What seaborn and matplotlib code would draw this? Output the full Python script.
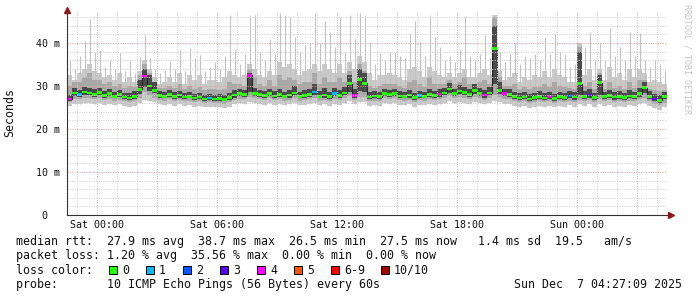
import numpy as np
import matplotlib
matplotlib.use("Agg")
import matplotlib.pyplot as plt
import matplotlib.patches as mpatches
import seaborn as sns

# ---------------- data (15-minute bins, Fri 22:30 -> Sun 04:30) ----------------
rtt_median = [
    27.0, 28.4, 28.0, 28.6, 28.4, 28.0, 28.5, 27.8, 28.2, 27.6,
    28.0, 27.4, 27.2, 27.5, 29.2, 32.3, 30.0, 29.0, 27.8, 27.6,
    28.0, 27.6, 27.9, 27.4, 27.6, 27.2, 27.4, 27.0, 27.2, 27.0,
    27.1, 26.9, 27.3, 27.9, 28.2, 28.0, 32.5, 28.3, 28.0, 27.8,
    28.3, 27.7, 28.0, 27.6, 27.9, 28.4, 27.6, 27.8, 28.0, 28.6,
    27.6, 27.9, 27.5, 28.2, 27.8, 28.4, 30.5, 27.8, 31.5, 30.6,
    27.4, 27.7, 27.5, 28.3, 28.0, 28.3, 27.7, 27.6, 27.9, 27.3,
    27.8, 27.6, 28.0, 27.8, 28.1, 28.4, 29.3, 28.2, 28.8, 28.5,
    28.0, 28.9, 28.3, 27.9, 28.4, 38.7, 29.0, 28.2, 28.0, 27.5,
    27.2, 27.4, 27.0, 27.3, 27.6, 27.2, 27.5, 27.1, 27.6, 27.3,
    27.7, 27.4, 30.5, 27.6, 27.9, 27.3, 30.8, 27.5, 27.8, 27.4,
    27.6, 27.3, 27.7, 27.5, 28.2, 29.6, 27.6, 27.0, 26.7, 27.5,
]
ping_spike = [
    36.0, 34.0, 37.0, 40.5, 45.5, 38.0, 38.4, 34.5, 36.0, 34.0,
    37.6, 33.5, 35.9, 33.0, 36.7, 41.9, 36.5, 34.0, 33.0, 33.8,
    35.9, 34.0, 38.4, 33.5, 38.8, 36.5, 37.2, 33.5, 34.5, 35.5,
    34.0, 37.0, 46.5, 38.5, 35.0, 37.5, 46.5, 46.5, 38.0, 36.0,
    41.0, 37.5, 47.0, 46.5, 46.0, 41.5, 38.0, 39.5, 40.0, 47.0,
    40.0, 45.0, 42.6, 39.0, 46.0, 38.0, 46.5, 41.0, 47.0, 46.5,
    40.0, 35.0, 37.6, 36.0, 38.0, 37.6, 37.0, 36.5, 42.3, 45.0,
    40.5, 37.0, 46.5, 41.5, 39.0, 36.0, 37.0, 35.5, 38.5, 46.0,
    37.0, 36.0, 37.5, 41.9, 36.5, 46.5, 38.0, 35.5, 37.5, 40.0,
    35.0, 37.0, 36.5, 37.5, 36.0, 41.5, 37.5, 42.3, 38.0, 37.5,
    34.5, 35.0, 40.0, 39.0, 42.6, 36.0, 39.9, 36.0, 43.4, 37.0,
    39.0, 36.0, 42.6, 37.0, 42.3, 36.0, 34.5, 36.0, 35.0, 33.5,
]
ping_upper = [
    32.5, 31.5, 33.0, 34.0, 35.0, 33.5, 33.0, 32.0, 32.5, 31.5,
    33.0, 31.0, 32.0, 31.0, 33.5, 36.0, 34.0, 32.0, 30.5, 31.0,
    32.0, 31.0, 33.0, 30.5, 32.5, 31.5, 32.5, 30.5, 31.5, 31.5,
    31.0, 32.0, 33.5, 32.5, 32.0, 32.5, 35.0, 34.0, 32.5, 32.0,
    33.5, 32.5, 35.5, 34.5, 35.0, 34.0, 32.5, 33.5, 34.0, 35.0,
    33.5, 35.0, 34.0, 33.0, 35.0, 33.0, 35.5, 34.0, 37.0, 35.5,
    33.0, 31.5, 32.5, 32.5, 33.0, 32.5, 32.0, 31.5, 34.0, 34.5,
    33.5, 32.0, 34.5, 33.5, 32.5, 32.0, 33.0, 32.0, 33.0, 34.0,
    32.0, 32.0, 33.0, 34.0, 32.5, 46.5, 33.5, 31.5, 32.0, 33.0,
    31.0, 32.0, 31.5, 32.5, 32.0, 33.5, 32.0, 34.0, 32.5, 32.0,
    31.0, 31.0, 40.0, 32.5, 34.0, 31.5, 34.0, 31.5, 34.5, 32.0,
    33.0, 31.5, 34.0, 32.0, 34.0, 33.0, 31.0, 31.5, 31.0, 30.5,
]
ping_p8 = [
    30.0, 31.0, 31.0, 32.0, 33.0, 31.5, 31.5, 30.5, 31.0, 30.0,
    30.5, 29.5, 30.0, 29.8, 32.5, 35.0, 33.0, 31.0, 29.5, 29.5,
    30.0, 29.5, 30.5, 29.2, 30.0, 29.3, 29.8, 29.0, 29.4, 29.2,
    29.0, 29.3, 31.0, 30.5, 30.5, 30.0, 34.0, 32.0, 30.5, 30.0,
    31.5, 30.0, 32.5, 31.5, 32.0, 31.5, 30.5, 31.0, 31.0, 33.0,
    30.5, 32.0, 31.0, 31.0, 32.0, 31.0, 33.5, 31.0, 35.0, 33.5,
    30.0, 29.5, 30.0, 30.5, 30.5, 30.5, 30.0, 29.5, 31.0, 31.5,
    30.5, 29.8, 32.0, 30.5, 30.5, 30.5, 31.5, 30.5, 31.0, 32.0,
    30.5, 30.5, 31.0, 31.5, 30.5, 46.0, 32.0, 30.0, 30.0, 30.5,
    29.3, 29.8, 29.3, 29.8, 29.8, 30.5, 29.8, 31.0, 30.0, 29.8,
    29.5, 29.3, 39.0, 30.0, 31.0, 29.3, 33.0, 29.3, 31.0, 29.5,
    30.0, 29.3, 31.0, 29.5, 31.5, 31.5, 29.3, 29.0, 28.8, 29.0,
]
ping_p6 = [
    28.0, 29.5, 29.0, 29.8, 29.5, 29.2, 29.6, 28.8, 29.4, 28.6,
    29.0, 28.4, 28.3, 28.8, 31.5, 34.0, 32.5, 31.0, 28.8, 28.6,
    29.0, 28.6, 28.9, 28.4, 28.6, 28.2, 28.4, 28.0, 28.2, 28.0,
    28.1, 27.9, 28.4, 29.0, 29.3, 29.0, 33.0, 29.5, 29.0, 28.8,
    29.4, 28.8, 29.2, 28.7, 29.1, 30.0, 28.7, 29.0, 29.3, 30.5,
    28.8, 29.5, 28.6, 29.6, 29.0, 29.8, 32.5, 29.2, 34.0, 33.0,
    28.5, 28.8, 28.6, 29.4, 29.0, 29.4, 28.8, 28.6, 29.0, 28.4,
    28.9, 28.6, 29.2, 28.9, 29.3, 29.6, 30.8, 29.4, 30.2, 29.8,
    29.2, 30.4, 29.6, 29.0, 29.8, 44.0, 31.0, 29.4, 29.2, 28.6,
    28.3, 28.5, 28.1, 28.4, 28.8, 28.3, 28.7, 28.2, 28.7, 28.4,
    28.8, 28.5, 38.0, 28.8, 29.2, 28.4, 32.5, 28.6, 29.0, 28.5,
    28.8, 28.4, 29.0, 28.6, 29.6, 31.0, 28.8, 28.2, 27.8, 28.5,
]
ping_p4 = [
    26.5, 27.7, 27.4, 27.9, 27.8, 27.4, 27.9, 27.2, 27.6, 27.1,
    27.4, 26.9, 26.7, 27.0, 28.2, 29.8, 28.9, 28.3, 27.2, 27.1,
    27.4, 27.0, 27.3, 26.9, 27.1, 26.7, 26.9, 26.5, 26.7, 26.5,
    26.6, 26.4, 26.8, 27.3, 27.6, 27.4, 28.5, 27.7, 27.4, 27.2,
    27.7, 27.2, 27.4, 27.1, 27.3, 27.8, 27.1, 27.2, 27.4, 27.9,
    27.1, 27.3, 27.0, 27.6, 27.2, 27.8, 28.6, 27.3, 28.8, 28.5,
    26.9, 27.1, 27.0, 27.7, 27.4, 27.7, 27.2, 27.1, 27.3, 26.8,
    27.2, 27.1, 27.4, 27.2, 27.5, 27.8, 28.4, 27.6, 28.1, 27.9,
    27.4, 28.2, 27.7, 27.3, 27.8, 30.5, 28.2, 27.6, 27.4, 27.0,
    26.7, 26.9, 26.5, 26.8, 27.0, 26.7, 26.9, 26.6, 27.0, 26.8,
    27.1, 26.8, 27.8, 27.0, 27.3, 26.8, 27.9, 26.9, 27.2, 26.8,
    27.0, 26.7, 27.1, 26.9, 27.5, 28.4, 26.9, 26.4, 26.1, 26.9,
]
ping_p2 = [
    26.2, 27.0, 26.9, 27.2, 27.1, 26.9, 27.2, 26.7, 27.0, 26.6,
    26.8, 26.4, 26.2, 26.5, 27.3, 28.5, 27.8, 27.3, 26.7, 26.6,
    26.9, 26.5, 26.8, 26.4, 26.6, 26.2, 26.4, 26.0, 26.2, 26.0,
    26.1, 25.9, 26.2, 26.8, 27.0, 26.9, 27.5, 27.1, 26.9, 26.7,
    27.1, 26.7, 26.9, 26.6, 26.8, 27.2, 26.6, 26.7, 26.9, 27.3,
    26.6, 26.8, 26.5, 27.0, 26.7, 27.2, 27.6, 26.8, 27.5, 27.4,
    26.4, 26.6, 26.5, 27.1, 26.9, 27.1, 26.7, 26.6, 26.8, 26.3,
    26.7, 26.6, 26.9, 26.7, 27.0, 27.2, 27.6, 27.1, 27.5, 27.3,
    26.9, 27.5, 27.1, 26.8, 27.2, 27.8, 27.5, 27.0, 26.9, 26.5,
    26.2, 26.4, 26.0, 26.3, 26.5, 26.2, 26.4, 26.1, 26.5, 26.3,
    26.6, 26.3, 26.8, 26.5, 26.8, 26.3, 26.9, 26.4, 26.7, 26.3,
    26.5, 26.2, 26.6, 26.4, 26.9, 27.2, 26.4, 25.9, 25.6, 26.1,
]
ping_min = [
    25.3, 25.9, 25.8, 26.1, 26.0, 25.8, 26.1, 25.6, 25.9, 25.5,
    25.7, 25.3, 25.2, 25.4, 26.0, 26.8, 26.5, 26.2, 25.7, 25.5,
    25.8, 25.4, 25.7, 25.3, 25.5, 25.2, 25.3, 25.0, 25.1, 25.0,
    25.1, 24.9, 25.2, 25.7, 26.0, 25.8, 26.3, 26.0, 25.8, 25.6,
    26.0, 25.6, 25.8, 25.5, 25.7, 26.0, 25.5, 25.6, 25.8, 26.1,
    25.5, 25.7, 25.4, 25.9, 25.6, 26.0, 26.4, 25.7, 26.3, 26.2,
    25.3, 25.5, 25.4, 26.0, 25.8, 26.0, 25.6, 25.5, 25.7, 25.2,
    25.6, 25.5, 25.8, 25.6, 25.9, 26.0, 26.4, 26.0, 26.3, 26.1,
    25.8, 26.3, 26.0, 25.7, 26.0, 26.5, 26.3, 25.9, 25.8, 25.4,
    25.1, 25.3, 24.9, 25.2, 25.4, 25.1, 25.3, 25.0, 25.4, 25.2,
    25.5, 25.2, 25.7, 25.4, 25.7, 25.2, 25.8, 25.3, 25.6, 25.2,
    25.4, 25.1, 25.5, 25.3, 25.8, 26.0, 25.3, 24.8, 24.4, 25.0,
]
# lost pings (out of 10) per bin
lost_pings = [
    4, 0, 1, 0, 0, 0, 0, 0, 0, 0,
    0, 0, 0, 0, 0, 4, 0, 0, 0, 0,
    0, 0, 0, 0, 0, 0, 0, 0, 1, 0,
    0, 0, 0, 0, 0, 0, 4, 0, 0, 0,
    0, 0, 0, 0, 0, 0, 0, 0, 0, 1,
    0, 0, 0, 1, 0, 0, 0, 4, 0, 0,
    0, 0, 0, 0, 0, 0, 0, 0, 0, 0,
    1, 0, 0, 0, 4, 0, 0, 0, 0, 0,
    0, 0, 0, 4, 0, 0, 0, 4, 0, 0,
    0, 0, 0, 0, 0, 0, 4, 0, 0, 0,
    2, 0, 0, 0, 3, 0, 0, 0, 0, 0,
    0, 0, 0, 0, 0, 0, 0, 3, 0, 0,
]

time_ticks = [0, 6, 12, 18, 24]
time_labels = ["Sat 00:00", "Sat 06:00", "Sat 12:00", "Sat 18:00", "Sun 00:00"]
y_ticks = [0, 10, 20, 30, 40]
y_labels = ["0  ", "10 m", "20 m", "30 m", "40 m"]

loss_names = ["0", "1", "2", "3", "4", "5", "6-9", "10/10"]
loss_hex = ["#26ff00", "#00b8ff", "#0059ff", "#5e00ff", "#ff00fe", "#ff5500", "#ff0000", "#a00000"]

row_rtt = "median rtt:  27.9 ms avg  38.7 ms max  26.5 ms min  27.5 ms now   1.4 ms sd  19.5   am/s"
row_loss = "packet loss: 1.20 % avg  35.56 % max  0.00 % min  0.00 % now"
row_color = "loss color:"
row_probe = "probe:       10 ICMP Echo Pings (56 Bytes) every 60s"
stamp = "Sun Dec  7 04:27:09 2025"

# ---------------- drawing ----------------
sns.set_style("white")
plt.rcParams['font.family'] = ['DejaVu Sans Mono', 'DejaVu Sans']

W, H = 697, 297
fig = plt.figure(figsize=(W / 100, H / 100), dpi=100)
fig.patch.set_facecolor('white')
ax = fig.add_axes([67 / W, (H - 215) / H, 600 / W, 203 / H])
ax.set_facecolor('white')

n = len(rtt_median)
bw = 0.25
hours = -1.5 + bw * np.arange(n)
med = np.array(rtt_median)
mn = np.array(ping_min)
up = np.array(ping_upper)
p2 = np.array(ping_p2)
p4 = np.array(ping_p4)
p6 = np.array(ping_p6)
p8 = np.array(ping_p8)

ax.bar(hours, up - mn, bottom=mn, width=bw, align='edge', color='#cacaca', linewidth=0, zorder=1)
ax.vlines(hours + bw / 2, mn, ping_spike, color='#c2c2c2', linewidth=0.8, zorder=1.1)
ax.bar(hours, p8 - p2, bottom=p2, width=bw, align='edge', color='#a8a8a8', linewidth=0, zorder=2)
ax.bar(hours, p6 - p4, bottom=p4, width=bw, align='edge', color='#4a4a4a', linewidth=0, zorder=3)
sns.lineplot(x=hours + bw / 2, y=med, ax=ax, color='#262626', linewidth=0.8,
             drawstyle='steps-mid', legend=False, zorder=4)
loss_cols = [loss_hex[min(l, 6) if l < 10 else 7] for l in lost_pings]
ax.bar(hours, 0.62, bottom=med - 0.31, width=bw, align='edge', color=loss_cols, linewidth=0, zorder=5)

x0, x1 = -1.5, 28.5
y1 = 47.2
ax.set_xlim(x0, x1)
ax.set_ylim(0, y1)

# grid (drawn on top as RRDtool does)
dots = (0, (1, 1.4))
for h in range(-1, 29):
    if h % 3 == 0:
        ax.axvline(h, color='#e8a0a0', lw=0.72, ls=dots, zorder=6)
    else:
        ax.axvline(h, color='#cccccc', lw=0.72, ls=dots, zorder=6)
for v in range(2, 47, 2):
    if v % 10 == 0:
        ax.axhline(v, color='#e8a0a0', lw=0.72, ls=dots, zorder=6)
    else:
        ax.axhline(v, color='#cccccc', lw=0.72, ls=dots, zorder=6)

ax.set_xticks(time_ticks, time_labels)
ax.set_xticks(list(range(-1, 29)), minor=True)
ax.set_yticks(y_ticks, y_labels)
ax.set_yticks(list(range(0, 47, 2)), minor=True)
ax.tick_params(axis='x', which='both', direction='out', length=1.6, width=0.7, color='#555555',
               pad=2.2, labelsize=7.2, labelcolor='#111111')
ax.tick_params(axis='y', which='both', direction='out', length=1.6, width=0.7, color='#555555',
               pad=3.4, labelsize=7.2, labelcolor='#111111')
for s in ['top', 'right']:
    ax.spines[s].set_visible(False)
for s in ['left', 'bottom']:
    ax.spines[s].set_color('#333333')
    ax.spines[s].set_linewidth(0.8)
    ax.spines[s].set_zorder(7)
ax.set_xlabel('')
ax.set_ylabel('')

# axis arrows
ax.plot([x0], [y1 + 0.35], marker='^', markersize=4.2, color='#8b1a1a', clip_on=False, zorder=8)
ax.plot([x1 + 0.18], [0], marker='>', markersize=4.2, color='#8b1a1a', clip_on=False, zorder=8)

def fx(px):
    return px / W

def fy(py):
    return 1 - py / H

fs = 8.37
fig.text(fx(10), fy(113), "Seconds", rotation=90, ha='center', va='center', fontsize=fs, color='#111111')
fig.text(fx(686.5), fy(4), "RRDTOOL / TOBI OETIKER", rotation=270, ha='center', va='top',
         fontsize=6.0, color='#c4c4c4')

fig.text(fx(16), fy(242), row_rtt, ha='left', va='center', fontsize=fs, color='#111111')
fig.text(fx(16), fy(256), row_loss, ha='left', va='center', fontsize=fs, color='#111111')
fig.text(fx(16), fy(270), row_color, ha='left', va='center', fontsize=fs, color='#111111')
fig.text(fx(16), fy(284.5), row_probe, ha='left', va='center', fontsize=fs, color='#111111')
fig.text(fx(682), fy(284.5), stamp, ha='right', va='center', fontsize=fs, color='#111111')

box_x = [109, 146, 183, 220, 257, 294, 331, 381]
for bx, name, col in zip(box_x, loss_names, loss_hex):
    fig.patches.append(mpatches.Rectangle((fx(bx), fy(273.5)), 8 / W, 8 / H, transform=fig.transFigure,
                                          facecolor=col, edgecolor='#000000', linewidth=0.7))
    fig.text(fx(bx + 13), fy(270), name, ha='left', va='center', fontsize=fs, color='#111111')

fig.savefig("out.png", dpi=100, facecolor='white')
